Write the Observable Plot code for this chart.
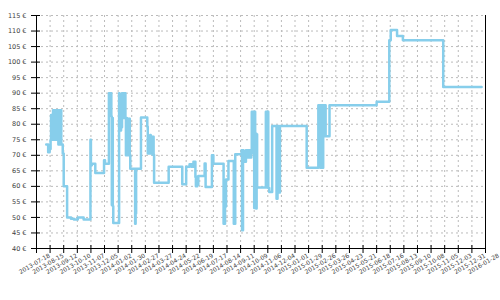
<!DOCTYPE html>
<html><head><meta charset="utf-8">
<script src="https://cdn.jsdelivr.net/npm/d3@7"></script>
<script src="https://cdn.jsdelivr.net/npm/@observablehq/plot@0.6"></script>
<style>body{margin:0;background:#fff} svg text{-webkit-font-smoothing:antialiased}</style>
</head><body><div id="chart"></div>
<script>
const dates = [
"2013-08-07","2013-08-11","2013-08-14",
"2013-08-16","2013-08-17","2013-08-18","2013-08-19","2013-08-20","2013-08-21","2013-08-22","2013-08-23","2013-08-24","2013-08-25","2013-08-26","2013-08-27","2013-08-28","2013-08-29","2013-08-30","2013-08-31","2013-09-01","2013-09-02","2013-09-03","2013-09-04","2013-09-05","2013-09-06","2013-09-07",
"2013-09-10","2013-09-12","2013-09-19","2013-09-27","2013-10-03","2013-10-11","2013-10-23",
"2013-11-06","2013-11-07","2013-11-09","2013-11-16","2013-12-04","2013-12-06",
"2013-12-14","2013-12-15","2013-12-16","2013-12-17","2013-12-18","2013-12-19","2013-12-20","2013-12-21","2013-12-22","2013-12-23",
"2014-01-04","2014-01-05","2014-01-06","2014-01-07","2014-01-08","2014-01-09","2014-01-10","2014-01-11","2014-01-12","2014-01-13","2014-01-14","2014-01-15","2014-01-16","2014-01-17","2014-01-18","2014-01-19","2014-01-20","2014-01-21","2014-01-22","2014-01-23","2014-01-24","2014-01-25","2014-01-26","2014-01-27",
"2014-02-06","2014-02-07","2014-02-08","2014-02-18",
"2014-03-03","2014-03-04","2014-03-05","2014-03-06","2014-03-07","2014-03-08","2014-03-09","2014-03-10","2014-03-11","2014-03-12","2014-03-13","2014-03-14","2014-03-15","2014-03-16","2014-03-17",
"2014-04-16","2014-05-14","2014-05-22","2014-05-29","2014-06-02","2014-06-06",
"2014-06-10","2014-06-11","2014-06-12","2014-06-13","2014-06-14","2014-06-15","2014-06-16",
"2014-06-29","2014-07-01","2014-07-14","2014-07-15","2014-07-16","2014-07-17",
"2014-08-07","2014-08-10","2014-08-12","2014-08-17","2014-08-28","2014-08-31",
"2014-09-13","2014-09-14","2014-09-16","2014-09-17","2014-09-18","2014-09-22","2014-09-23","2014-09-25","2014-09-27","2014-09-29","2014-10-01","2014-10-03",
"2014-10-04","2014-10-08","2014-10-09","2014-10-10","2014-10-11","2014-10-12","2014-10-13","2014-10-14","2014-10-15",
"2014-11-02","2014-11-04","2014-11-05","2014-11-07","2014-11-09","2014-11-15","2014-11-24","2014-11-26","2014-11-28","2014-12-01",
"2015-01-25","2015-02-18","2015-02-22","2015-02-24","2015-02-26","2015-02-28","2015-03-01","2015-03-02","2015-03-03","2015-03-04","2015-03-05","2015-03-13",
"2015-06-18","2015-07-14","2015-07-17","2015-07-30","2015-08-11","2015-11-02","2016-01-20"
];
const prices = [
73.5,71,72,
75,83,75,83,75,84.5,75,84.5,75.5,84.5,75,84.5,76,84.5,75,84.5,73.5,84.5,73.5,84.5,73.5,84.5,73.5,
70.6,60,50,49.6,49.3,50,49.3,
75,66.8,67.3,64.3,68.4,67.3,
90,84.5,90,84,90,82.5,54,82,53.6,48.2,
90,78,86,78,86,79,90,82,90,82,90,82,90,82,70,82,70,81.8,70,81.8,70,81.8,70,65.7,
48,51.3,65.7,82.2,
79.2,70.6,76,70.6,76,70.6,76.5,70.6,76,70.6,76,70.2,76,70.2,61.2,
66.3,60.7,66.3,67.1,66.3,67.9,
63,60,63,60,63.2,60.5,63.3,
67.4,59.8,70,67.3,70,67.3,
48,53.5,62.2,68.2,48,70.3,
71.6,45.9,71.6,69.3,67.9,71.6,69.3,71.6,69.3,71.6,69.3,70.5,
84,82.4,53,84,55,77,52.9,76.8,59.6,
84,59.6,84,59.5,58.2,79.4,56,79.4,58,79.4,
66,86.1,66,86.1,66,86.1,76.1,86.1,76.1,86.1,76.1,86.1,
87.2,107,110.3,108.4,107,92,92
];
const xTickLabels = ["2013-07-18","2013-08-15","2013-09-12","2013-10-10","2013-11-07","2013-12-05","2014-01-02","2014-01-30","2014-02-27","2014-03-27","2014-04-24","2014-05-22","2014-06-19","2014-07-17","2014-08-14","2014-09-11","2014-10-09","2014-11-06","2014-12-04","2015-01-01","2015-01-29","2015-02-26","2015-03-26","2015-04-23","2015-05-21","2015-06-18","2015-07-16","2015-08-13","2015-09-10","2015-10-08","2015-11-05","2015-12-03","2015-12-31","2016-01-28"];
const yTicks = [40,45,50,55,60,65,70,75,80,85,90,95,100,105,110,115];

const data = dates.map((d, i) => ({date: new Date(d), price: prices[i]}));
const xTicks = xTickLabels.map(s => new Date(s));
const x0 = xTicks[0], x1 = xTicks[xTicks.length - 1];

const chart = Plot.plot({
  width: 500, height: 300,
  marginLeft: 36, marginRight: 15, marginTop: 15, marginBottom: 52,
  style: {fontFamily: "DejaVu Sans", fontSize: "6.5px", color: "#404040", background: "#fff"},
  x: {type: "utc", domain: [x0, x1]},
  y: {domain: [40, 115]},
  marks: [
    Plot.gridY(yTicks, {stroke: "#bbb", strokeOpacity: 1, strokeDasharray: "2,3"}),
    Plot.gridX(xTicks, {stroke: "#bbb", strokeOpacity: 1, strokeDasharray: "2,3"}),
    Plot.lineY(data, {x: "date", y: "price", curve: "step-after", stroke: "#87CEEB", strokeWidth: 2.5}),
    Plot.ruleX([x0], {stroke: "#000"}),
    Plot.ruleX([x1], {stroke: "#000"}),
    Plot.ruleY([40], {stroke: "#000"}),
    Plot.axisY(yTicks, {tickSize: 9, dx: 4, tickFormat: () => "", stroke: "#000", label: null}),
    Plot.axisY(yTicks, {tickSize: 0, tickPadding: 10, tickFormat: d => d + " €", fill: "#404040", label: null}),
    Plot.axisX(xTicks, {tickSize: 8, dy: -3, tickFormat: () => "", stroke: "#000", label: null}),
    Plot.text(xTickLabels, {x: d => new Date(d), frameAnchor: "bottom", dy: 17, dx: -1, rotate: -30, text: d => d, fill: "#404040", stroke: "none", fontSize: 6})
  ]
});
document.getElementById("chart").appendChild(chart);
</script>
</body></html>
